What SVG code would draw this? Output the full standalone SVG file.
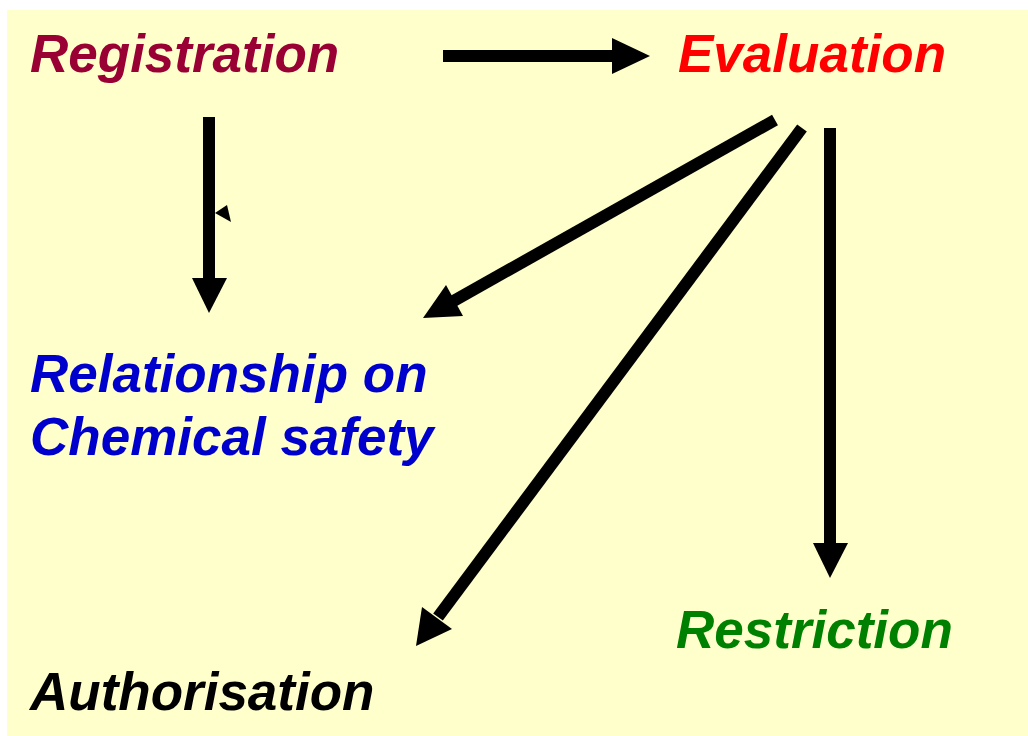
<svg xmlns="http://www.w3.org/2000/svg" width="1028" height="736" viewBox="0 0 1028 736">
  <style>
    .lbl { font-family: "Liberation Sans", Arial, sans-serif; font-size: 53px; font-weight: bold; font-style: italic; }
    .shaft { stroke: #000; stroke-width: 12; fill: none; }
    .head { fill: #000; }
  </style>
  <rect x="0" y="0" width="1028" height="736" fill="#ffffff"/>
  <rect x="7" y="10" width="1021" height="726" fill="#ffffcc"/>

  <g id="connectors">
    <!-- Registration -> Evaluation -->
    <line class="shaft" x1="443" y1="56" x2="615" y2="56"/>
    <polygon class="head" points="650,56 612,38 612,74"/>
    <!-- Registration -> Relationship -->
    <line class="shaft" x1="209" y1="117" x2="209" y2="282"/>
    <polygon class="head" points="209,313 192,278 227,278"/>
    <polygon class="head" points="215,213 227,205 231,222"/>
    <!-- Evaluation -> Relationship -->
    <line class="shaft" x1="775" y1="120" x2="450" y2="303"/>
    <polygon class="head" points="423,318 446,285 463,316"/>
    <!-- Evaluation -> Authorisation -->
    <line class="shaft" x1="802" y1="128" x2="438" y2="617"/>
    <polygon class="head" points="416,646 422,607 452,629"/>
    <!-- Evaluation -> Restriction -->
    <line class="shaft" x1="830" y1="128" x2="830" y2="548"/>
    <polygon class="head" points="830,578 813,543 848,543"/>
  </g>

  <g id="registration"><text class="lbl" x="30" y="72" fill="#990033">Registration</text></g>
  <g id="evaluation"><text class="lbl" x="678" y="72" fill="#ff0000">Evaluation</text></g>
  <g id="relationship">
    <text class="lbl" x="30" y="392" fill="#0000cc">Relationship on</text>
    <text class="lbl" x="30" y="455" fill="#0000cc">Chemical safety</text>
  </g>
  <g id="restriction"><text class="lbl" x="676" y="648" fill="#008000">Restriction</text></g>
  <g id="authorisation"><text class="lbl" x="30" y="710" fill="#000000">Authorisation</text></g>
</svg>
